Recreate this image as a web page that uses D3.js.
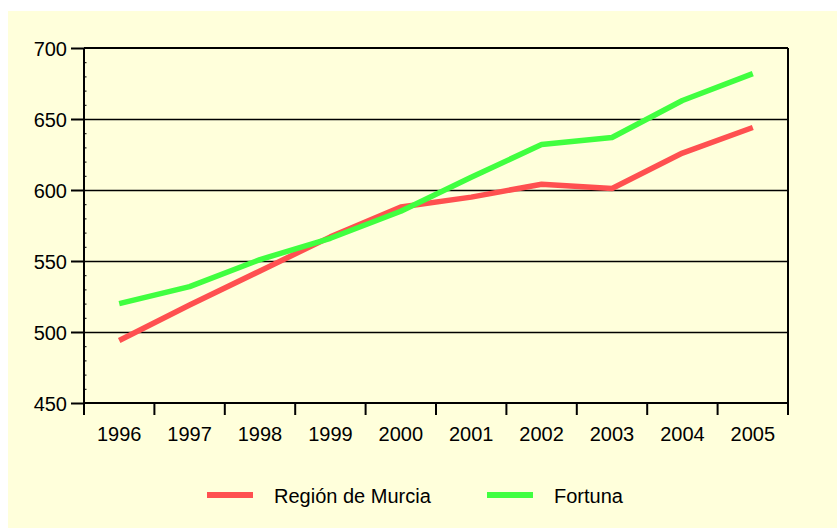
<!DOCTYPE html>
<html>
<head>
<meta charset="utf-8">
<script src="https://cdn.jsdelivr.net/npm/d3@7"></script>
<style>
  body { margin: 0; background: #fff; }
  text { font-family: "Liberation Sans", Arial, sans-serif; fill: #000; }
</style>
</head>
<body>
<div id="chart"></div>
<script>
// Datos
const years = ["1996", "1997", "1998", "1999", "2000", "2001", "2002", "2003", "2004", "2005"];
const murcia = [494, 519, 543, 567, 588, 595, 604, 601, 626, 644];
const fortuna = [520, 532, 551, 566, 585, 609, 632, 637, 663, 682];
const yTicks = [450, 500, 550, 600, 650, 700];
const seriesNames = ["Región de Murcia", "Fortuna"];
const seriesColors = ["#ff5050", "#40ff40"];

const width = 837;
const height = 528;
const margin = { top: 48, right: 49, bottom: 125, left: 84 };

const svg = d3.select("#chart")
  .append("svg")
  .attr("width", width)
  .attr("height", height)
  .attr("viewBox", [0, 0, width, height]);

// fondo amarillo
svg.append("rect")
  .attr("x", 8).attr("y", 11)
  .attr("width", width - 8).attr("height", height - 11)
  .attr("fill", "#ffffdb");

const x = d3.scaleBand()
  .domain(years)
  .range([margin.left, width - margin.right])
  .padding(0);

const y = d3.scaleLinear()
  .domain([450, 700])
  .range([height - margin.bottom, margin.top]);

const fontSize = "20px";

// rejilla
svg.append("g")
  .attr("transform", `translate(${margin.left},0)`)
  .call(d3.axisLeft(y).tickValues(yTicks.slice(1, -1)).tickSize(-(width - margin.left - margin.right)).tickFormat(""))
  .call(g => g.select(".domain").remove())
  .call(g => g.selectAll("line").attr("stroke", "#000").attr("stroke-width", 1.6));

// marco superior y derecho
svg.append("line")
  .attr("x1", margin.left).attr("x2", width - margin.right)
  .attr("y1", y(700)).attr("y2", y(700))
  .attr("stroke", "#000").attr("stroke-width", 2);
svg.append("line")
  .attr("x1", width - margin.right).attr("x2", width - margin.right)
  .attr("y1", y(700)).attr("y2", y(450) + 12)
  .attr("stroke", "#000").attr("stroke-width", 2);

// eje Y: marcas menores
svg.append("g")
  .attr("transform", `translate(${margin.left},0)`)
  .call(d3.axisLeft(y).tickValues(d3.range(450, 701, 10)).tickSize(-2.5).tickFormat(""))
  .call(g => g.select(".domain").remove())
  .call(g => g.selectAll("line").attr("stroke", "#000").attr("stroke-width", 1));

// eje Y principal
svg.append("g")
  .attr("transform", `translate(${margin.left},0)`)
  .call(d3.axisLeft(y).tickValues(yTicks).tickSize(13).tickPadding(4).tickSizeOuter(0))
  .call(g => g.select(".domain").remove())
  .call(g => g.selectAll("line").attr("stroke", "#000").attr("stroke-width", 2))
  .call(g => g.selectAll("text").style("font-size", fontSize).attr("dy", "0.35em"));

svg.append("line")
  .attr("x1", margin.left).attr("x2", margin.left)
  .attr("y1", y(700)).attr("y2", y(450) + 12)
  .attr("stroke", "#000").attr("stroke-width", 2);

// eje X
svg.append("line")
  .attr("x1", margin.left).attr("x2", width - margin.right)
  .attr("y1", y(450)).attr("y2", y(450))
  .attr("stroke", "#000").attr("stroke-width", 2);

svg.append("g")
  .selectAll("line")
  .data(years.slice(1))
  .join("line")
  .attr("x1", d => x(d)).attr("x2", d => x(d))
  .attr("y1", y(450)).attr("y2", y(450) + 12)
  .attr("stroke", "#000").attr("stroke-width", 2);

svg.append("g")
  .attr("transform", `translate(0,${y(450)})`)
  .call(d3.axisBottom(x).tickSize(0).tickPadding(24))
  .call(g => g.select(".domain").remove())
  .call(g => g.selectAll("text").style("font-size", fontSize));

// series
const line = d3.line()
  .x((d, i) => x(years[i]) + x.bandwidth() / 2)
  .y(d => y(d));

[murcia, fortuna].forEach((values, i) => {
  svg.append("path")
    .datum(values)
    .attr("fill", "none")
    .attr("stroke", seriesColors[i])
    .attr("stroke-width", 5.5)
    .attr("stroke-linejoin", "round")
    .attr("d", line);
});

// leyenda
const legendX = [207, 487];
const legend = svg.append("g");
seriesNames.forEach((name, i) => {
  legend.append("line")
    .attr("x1", legendX[i]).attr("x2", legendX[i] + 46)
    .attr("y1", 495).attr("y2", 495)
    .attr("stroke", seriesColors[i])
    .attr("stroke-width", 6);
  legend.append("text")
    .attr("x", legendX[i] + 67)
    .attr("y", 503)
    .style("font-size", fontSize)
    .text(name);
});
</script>
</body>
</html>
